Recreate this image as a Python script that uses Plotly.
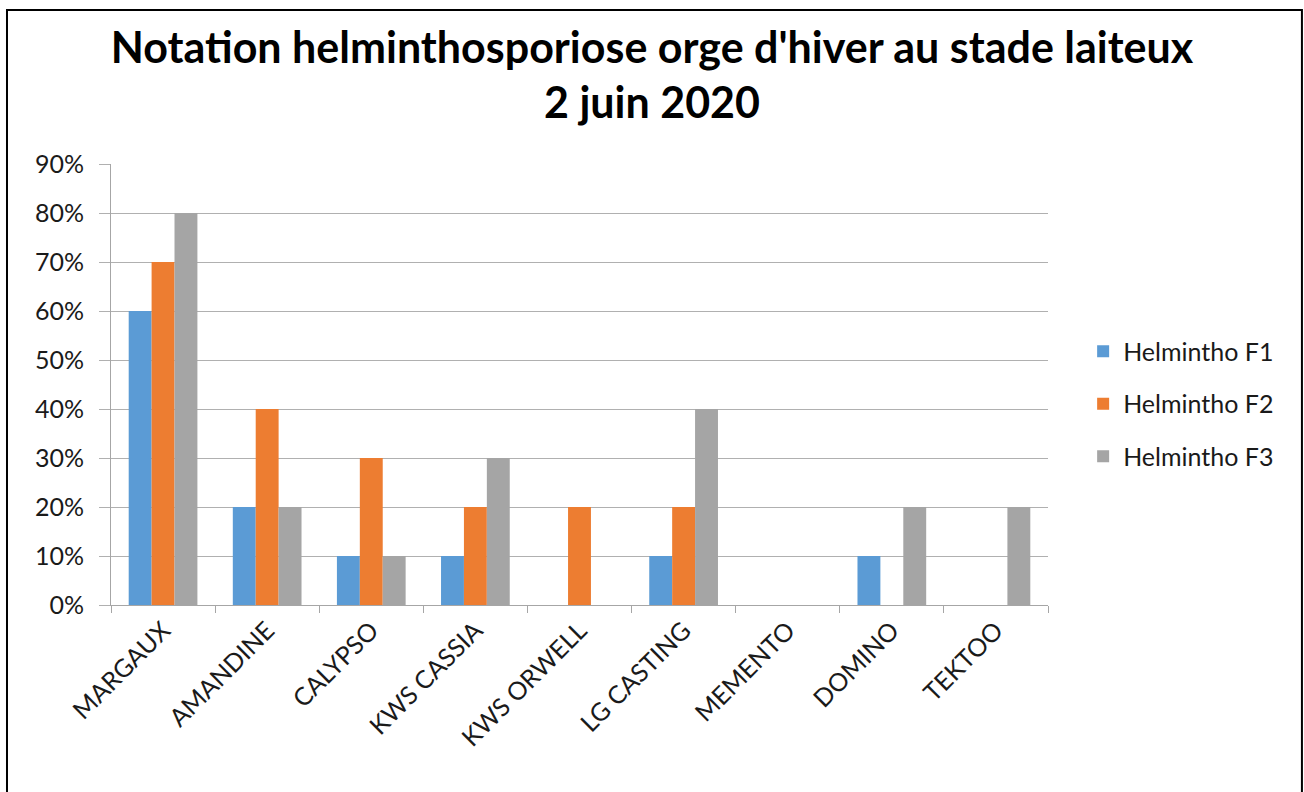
import plotly.graph_objects as go

varietes = ["MARGAUX", "AMANDINE", "CALYPSO", "KWS CASSIA", "KWS ORWELL",
            "LG CASTING", "MEMENTO", "DOMINO", "TEKTOO"]
helmintho_f1 = [0.60, 0.20, 0.10, 0.10, 0.0, 0.10, 0.0, 0.10, 0.0]
helmintho_f2 = [0.70, 0.40, 0.30, 0.20, 0.20, 0.20, 0.0, 0.0, 0.0]
helmintho_f3 = [0.80, 0.20, 0.10, 0.30, 0.0, 0.40, 0.0, 0.20, 0.20]

series = [
    ("Helmintho F1", helmintho_f1, "#5b9bd5"),
    ("Helmintho F2", helmintho_f2, "#ed7d31"),
    ("Helmintho F3", helmintho_f3, "#a5a5a5"),
]

fig = go.Figure()
for name, values, color in series:
    fig.add_trace(go.Bar(name=name, x=varietes, y=values, marker_color=color,
                         marker_line_width=0, legendgroup=name))

font_family = "Lato, Calibri, sans-serif"
fig.update_layout(
    width=1304,
    height=792,
    margin=dict(l=111, r=256, t=164, b=187),
    paper_bgcolor="white",
    plot_bgcolor="white",
    barmode="group",
    bargap=0.34,
    bargroupgap=0,
    font=dict(family=font_family, size=25, color="#1a1a1a"),
    title=dict(
        text="<b>Notation helminthosporiose orge d'hiver au stade laiteux<br>2 juin 2020</b>",
        x=0.5, xanchor="center", y=0.921, yanchor="top",
        font=dict(size=43, color="#000000")),
    legend=dict(x=1.0375, y=0.456, yanchor="middle", xanchor="left",
                font=dict(size=25), traceorder="grouped", tracegroupgap=17,
                itemwidth=30),
    showlegend=True,
)
fig.update_xaxes(
    showline=True, linecolor="#a6a6a6", linewidth=1,
    ticks="outside", tickson="boundaries", ticklen=7, tickcolor="#a6a6a6",
    tickangle=-45, tickfont=dict(size=25),
)
fig.update_yaxes(
    range=[0, 0.9], dtick=0.1, tickformat=".0%",
    showgrid=True, gridcolor="#b0b0b0", gridwidth=1,
    showline=True, linecolor="#a6a6a6", linewidth=1,
    ticks="outside", ticklen=11, tickcolor="#b0b0b0", ticklabelstandoff=10,
    tickfont=dict(size=25), zeroline=False,
)
# cadre noir autour du graphique
fig.add_shape(type="path", xref="paper", yref="paper",
              path="M -0.111 -0.5 L -0.111 1.349 L 1.271 1.349 L 1.271 -0.5",
              line=dict(color="black", width=2))

fig.write_html("out.html", config={"displayModeBar": False},
               post_script="document.body.style.margin = '0';")
